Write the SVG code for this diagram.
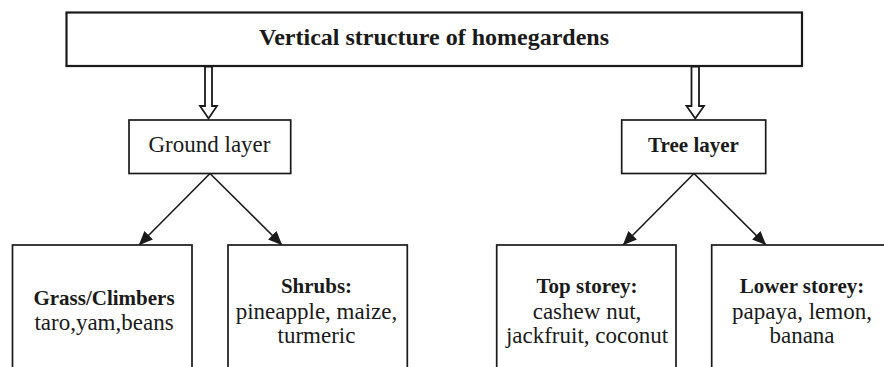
<svg xmlns="http://www.w3.org/2000/svg" width="884" height="367" viewBox="0 0 884 367">
<style>
.box{fill:#fff;stroke:#1a1a1a;stroke-width:1.7}
.t{font-family:"Liberation Serif","Times New Roman",serif;fill:#1a1a1a;text-anchor:middle}
.b{font-weight:bold}
.r{font-size:23px}
.bb{font-size:21px}
.con{stroke:#1a1a1a;stroke-width:1.6;fill:none}
.hollow{fill:#fff;stroke:#1a1a1a;stroke-width:1.8;stroke-linejoin:miter}
</style>
<defs>
<marker id="ah" viewBox="0 0 14 12" refX="13" refY="6" markerWidth="14" markerHeight="12" markerUnits="userSpaceOnUse" orient="auto">
<path d="M0,0 L14,6 L0,12 Z" fill="#1a1a1a"/>
</marker>
</defs>
<rect width="884" height="367" fill="#fff"/>
<g id="connectors">
<polygon class="hollow" points="205,66.5 205,106 200,106 208.5,118.5 217,106 212,106 212,66.5"/>
<polygon class="hollow" points="691.5,66.5 691.5,106 686.5,106 695.3,118.5 704,106 699,106 699,66.5"/>
<line class="con" x1="210" y1="173.5" x2="139.5" y2="244.5" marker-end="url(#ah)"/>
<line class="con" x1="210" y1="173.5" x2="281.5" y2="244.5" marker-end="url(#ah)"/>
<line class="con" x1="694" y1="173.5" x2="623.5" y2="244.5" marker-end="url(#ah)"/>
<line class="con" x1="694" y1="173.5" x2="765.5" y2="244.5" marker-end="url(#ah)"/>
</g>
<g id="root">
<rect class="box" x="66.5" y="12.5" width="735.5" height="53.5" style="stroke-width:2.2"/>
<text class="t b" x="434" y="45" font-size="24">Vertical structure of homegardens</text>
</g>
<g id="ground">
<rect class="box" x="129" y="120" width="161.7" height="53.5"/>
<text class="t r" x="209.5" y="151.5">Ground layer</text>
</g>
<g id="tree">
<rect class="box" x="621.7" y="120" width="144" height="53.5"/>
<text class="t b bb" x="693.5" y="151.5">Tree layer</text>
</g>
<g id="grass">
<rect class="box" x="12.5" y="245" width="179.5" height="140"/>
<text class="t b bb" x="104" y="305">Grass/Climbers</text>
<text class="t r" x="104" y="330">taro,yam,beans</text>
</g>
<g id="shrubs">
<rect class="box" x="228" y="245" width="179.3" height="140"/>
<text class="t b bb" x="316.5" y="293">Shrubs:</text>
<text class="t r" x="316.5" y="318.5">pineapple, maize,</text>
<text class="t r" x="316.5" y="343">turmeric</text>
</g>
<g id="top">
<rect class="box" x="496.7" y="245" width="179.3" height="140"/>
<text class="t b bb" x="587" y="293">Top storey:</text>
<text class="t r" x="587" y="318.5">cashew nut,</text>
<text class="t r" x="587" y="343">jackfruit, coconut</text>
</g>
<g id="lower">
<rect class="box" x="711.7" y="245" width="179.3" height="140"/>
<text class="t b bb" x="802" y="293">Lower storey:</text>
<text class="t r" x="802" y="318.5">papaya, lemon,</text>
<text class="t r" x="802" y="343">banana</text>
</g>
</svg>
